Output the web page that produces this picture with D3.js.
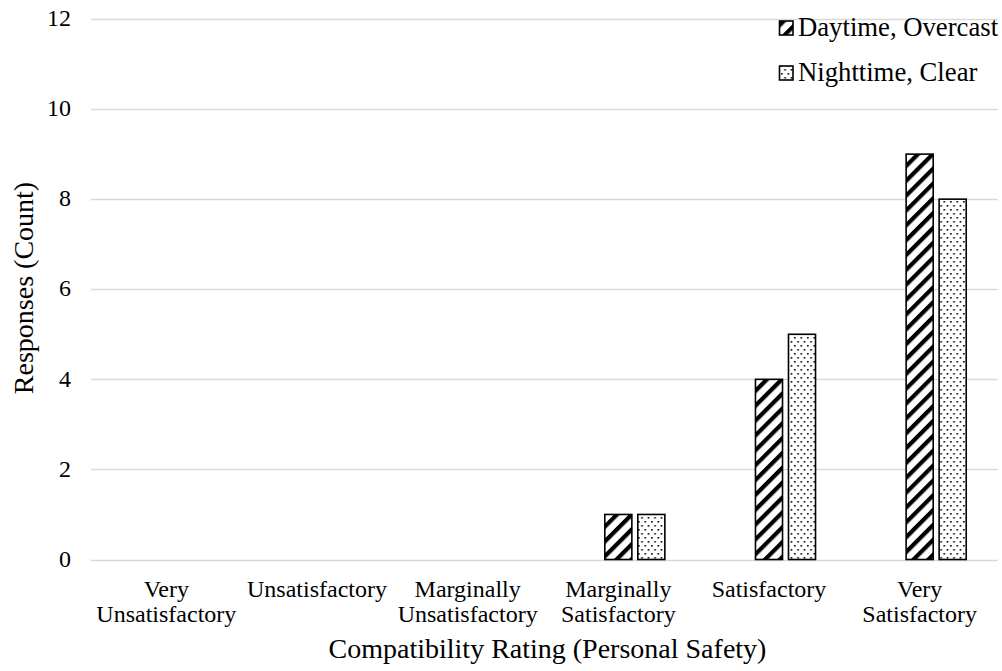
<!DOCTYPE html>
<html><head><meta charset="utf-8">
<script src="https://cdn.jsdelivr.net/npm/d3@7"></script>
<style>body{margin:0;background:#fff;} svg{display:block;}</style>
</head><body>
<svg id="chart" width="1002" height="671" font-family="'Liberation Serif', 'Times New Roman', Times, serif"></svg>
<script>
const categories = [["Very","Unsatisfactory"],["Unsatisfactory"],["Marginally","Unsatisfactory"],["Marginally","Satisfactory"],["Satisfactory"],["Very","Satisfactory"]];
const seriesNames = ["Daytime, Overcast","Nighttime, Clear"];
const daytimeOvercast = [0,0,0,1,4,9];
const nighttimeClear = [0,0,0,1,5,8];
const yTicks = [0,2,4,6,8,10,12];
const xTitle = "Compatibility Rating (Personal Safety)";
const yTitle = "Responses (Count)";

const svg = d3.select("#chart");
const defs = svg.append("defs");
// wide upward diagonal
const p1 = defs.append("pattern").attr("id","diag").attr("patternUnits","userSpaceOnUse")
  .attr("width",10.5).attr("height",10.5).attr("patternTransform","rotate(45)");
p1.append("rect").attr("width",10.5).attr("height",10.5).attr("fill","#fff");
p1.append("rect").attr("x",0).attr("width",4.2).attr("height",10.5).attr("fill","#000");
// dotted
const p2 = defs.append("pattern").attr("id","dots").attr("patternUnits","userSpaceOnUse")
  .attr("width",6.5).attr("height",8);
p2.append("rect").attr("width",6.5).attr("height",8).attr("fill","#fff");
p2.append("rect").attr("x",1).attr("y",1).attr("width",1.6).attr("height",1.6).attr("fill","#000");
p2.append("rect").attr("x",4.25).attr("y",5).attr("width",1.6).attr("height",1.6).attr("fill","#000");
const fills = ["url(#diag)","url(#dots)"];

const y = d3.scaleLinear().domain([0,12]).range([559.5,19]);
const x0 = d3.scaleBand().domain(d3.range(categories.length)).range([91,995]);
const slots = ["_empty"].concat(seriesNames);
const x1 = d3.scaleBand().domain(slots)
  .range([x0.bandwidth()/2-49.5, x0.bandwidth()/2+49.5]).paddingInner(0.18).paddingOuter(0.09);

// gridlines
svg.append("g").selectAll("line").data(yTicks).join("line")
  .attr("x1",91).attr("x2",998).attr("y1",d=>Math.round(y(d))+0.5).attr("y2",d=>Math.round(y(d))+0.5)
  .attr("stroke","#d9d9d9").attr("stroke-width",1.3);

// y tick labels
svg.append("g").selectAll("text").data(yTicks).join("text")
  .attr("x",71).attr("y",d=>y(d)).attr("dy","0.3em").attr("text-anchor","end")
  .attr("font-size",24).text(d=>d);

// bars
const seriesData = [daytimeOvercast, nighttimeClear];
seriesData.forEach((vals,si)=>{
  svg.append("g").selectAll("rect").data(vals.map((v,i)=>({v,i}))).join("rect")
    .filter(d=>d.v>0)
    .attr("x",d=>x0(d.i)+x1(seriesNames[si]))
    .attr("width",x1.bandwidth())
    .attr("y",d=>y(d.v)).attr("height",d=>y(0)-y(d.v))
    .attr("fill",fills[si]).attr("stroke","#000").attr("stroke-width",1.6);
});

// category labels
const cl = svg.append("g");
categories.forEach((lines,i)=>{
  const cx = x0(i)+x0.bandwidth()/2;
  const t = cl.append("text").attr("x",cx).attr("y",597)
    .attr("text-anchor","middle").attr("font-size",24);
  lines.forEach((ln,j)=>t.append("tspan").attr("x",cx).attr("dy",j?25:0).text(ln));
});

// axis titles
svg.append("text").attr("x",547.5).attr("y",658).attr("text-anchor","middle").attr("font-size",28).text(xTitle);
svg.append("text").attr("transform","translate(33,288) rotate(-90)").attr("text-anchor","middle").attr("font-size",28).text(yTitle);

// legend
const lg = svg.append("g");
seriesNames.forEach((n,i)=>{
  const base = 36 + i*45;
  lg.append("rect").attr("x",779.5).attr("y",base-15).attr("width",13.5).attr("height",14)
    .attr("fill",fills[i]).attr("stroke","#000").attr("stroke-width",1.6);
  lg.append("text").attr("x",798).attr("y",base).attr("font-size",26.7).text(n);
});
</script>
</body></html>
